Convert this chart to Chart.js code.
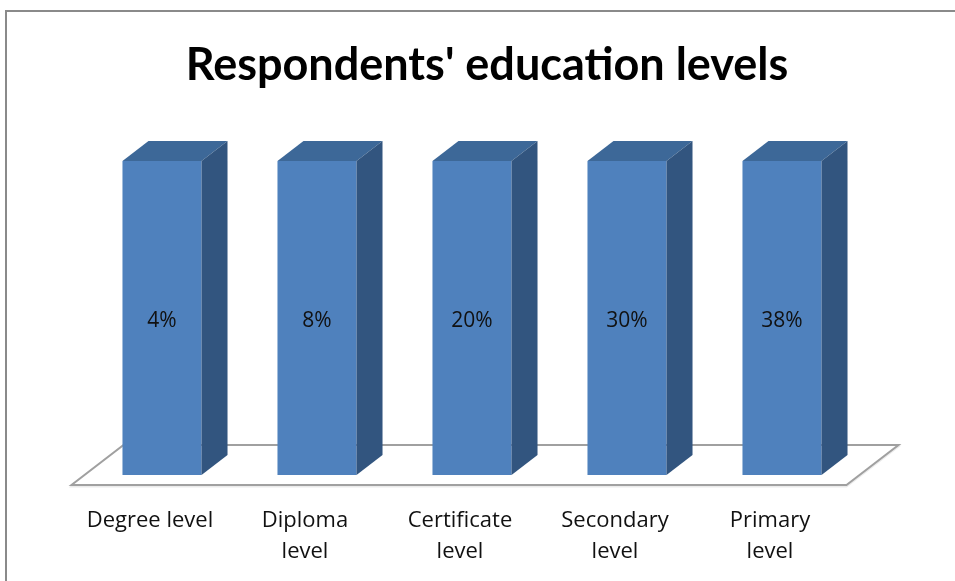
<!DOCTYPE html>
<html lang="en">
<head>
    <meta charset="UTF-8">
    <title>Respondents' education levels</title>
    <script src="https://cdn.jsdelivr.net/npm/chart.js"></script>
    <style>
        body {
            margin: 0;
            padding: 0;
            background-color: #ffffff;
        }

        #wrap {
            width: 955px;
            height: 581px;
        }
    </style>
</head>
<body>
    <div id="wrap">
        <canvas id="eduChart" width="955" height="581"></canvas>
    </div>

    <script>
        const chartTitle = "Respondents' education levels";
        // Education level categories (x-axis), label lines per category
        const levels = [
            ['Degree level'],
            ['Diploma', 'level'],
            ['Certificate', 'level'],
            ['Secondary', 'level'],
            ['Primary', 'level']
        ];
        // Share of respondents in each level (%)
        const shares = [4, 8, 20, 30, 38];

        // One series, 100% stacked: each column fills its own category total
        const stackTotals = shares.slice();
        const plotted = shares.map((v, i) => v / stackTotals[i] * 100);

        const FRONT = '#4F81BD';
        const TOP = '#3D6898';
        const SIDE = '#32557F';
        const TITLE_FONT = 'Lato, "Open Sans", sans-serif';
        const LABEL_FONT = '"Open Sans", Lato, sans-serif';

        // 3D depth: one unit of depth moves right 1.3px and up 1px
        const DEPTH = 20;
        const SLANT = 1.3;

        const box3d = {
            id: 'box3d',
            beforeDraw(chart) {
                const ctx = chart.ctx;
                ctx.save();
                // chart frame
                ctx.strokeStyle = '#8a8a8a';
                ctx.lineWidth = 2;
                ctx.beginPath();
                ctx.moveTo(6, chart.height);
                ctx.lineTo(6, 11);
                ctx.lineTo(chart.width, 11);
                ctx.stroke();

                // title, centred over the whole frame
                ctx.fillStyle = '#000000';
                ctx.font = 'bold 45px ' + TITLE_FONT;
                ctx.textAlign = 'center';
                ctx.textBaseline = 'alphabetic';
                ctx.fillText(chartTitle, 487, 80);
                ctx.restore();
            },
            beforeDatasetsDraw(chart) {
                // floor plane under the columns
                const ctx = chart.ctx;
                const x = chart.scales.x;
                const base = chart.scales.y.getPixelForValue(0);
                const front = 10, back = 30;
                const pts = [
                    [x.left - front * SLANT, base + front],
                    [x.right - front * SLANT, base + front],
                    [x.right + back * SLANT, base - back],
                    [x.left + back * SLANT, base - back]
                ];
                ctx.save();
                ctx.lineJoin = 'miter';
                ctx.beginPath();
                pts.forEach((p, i) => i ? ctx.lineTo(p[0], p[1] + 1.5) : ctx.moveTo(p[0], p[1] + 1.5));
                ctx.closePath();
                ctx.strokeStyle = 'rgba(0,0,0,0.08)';
                ctx.lineWidth = 2;
                ctx.stroke();
                ctx.beginPath();
                pts.forEach((p, i) => i ? ctx.lineTo(p[0], p[1]) : ctx.moveTo(p[0], p[1]));
                ctx.closePath();
                ctx.fillStyle = '#ffffff';
                ctx.fill();
                ctx.strokeStyle = '#a0a0a0';
                ctx.lineWidth = 2;
                ctx.stroke();
                ctx.restore();
            },
            afterDatasetsDraw(chart) {
                const ctx = chart.ctx;
                const meta = chart.getDatasetMeta(0);
                const dx = DEPTH * SLANT, dy = DEPTH;
                ctx.save();
                meta.data.forEach((bar, i) => {
                    const l = bar.x - bar.width / 2;
                    const r = bar.x + bar.width / 2;
                    const t = bar.y;
                    const b = bar.base;

                    // top face
                    ctx.beginPath();
                    ctx.moveTo(l, t);
                    ctx.lineTo(l + dx, t - dy);
                    ctx.lineTo(r + dx, t - dy);
                    ctx.lineTo(r, t);
                    ctx.closePath();
                    ctx.fillStyle = TOP;
                    ctx.fill();

                    // side face
                    ctx.beginPath();
                    ctx.moveTo(r, t);
                    ctx.lineTo(r + dx, t - dy);
                    ctx.lineTo(r + dx, b - dy);
                    ctx.lineTo(r, b);
                    ctx.closePath();
                    ctx.fillStyle = SIDE;
                    ctx.fill();

                    // value label in the middle of the front face
                    ctx.fillStyle = '#111111';
                    ctx.font = '21px ' + LABEL_FONT;
                    ctx.textAlign = 'center';
                    ctx.textBaseline = 'middle';
                    ctx.fillText(shares[i] + '%', bar.x, (t + b) / 2 + 3);
                });

                // category labels, centred on the floor's front edge
                const base = chart.scales.y.getPixelForValue(0);
                ctx.fillStyle = '#111111';
                ctx.font = '22px ' + LABEL_FONT;
                ctx.textAlign = 'center';
                ctx.textBaseline = 'middle';
                levels.forEach((lines, i) => {
                    const cx = chart.scales.x.getPixelForValue(i) - 12;
                    lines.forEach((txt, j) => {
                        ctx.fillText(txt, cx, base + 46 + j * 31);
                    });
                });
                ctx.restore();
            }
        };

        const ctx = document.getElementById('eduChart').getContext('2d');
        new Chart(ctx, {
            type: 'bar',
            data: {
                labels: levels,
                datasets: [{
                    data: plotted,
                    backgroundColor: FRONT,
                    borderWidth: 0,
                    barPercentage: 0.51,
                    categoryPercentage: 1.0
                }]
            },
            options: {
                responsive: false,
                animation: false,
                layout: {
                    padding: { left: 84.5, right: 95.5, top: 161, bottom: 106 }
                },
                plugins: {
                    legend: { display: false },
                    tooltip: { enabled: false },
                    title: { display: false }
                },
                scales: {
                    x: { display: false },
                    y: { display: false, min: 0, max: 100 }
                }
            },
            plugins: [box3d]
        });
    </script>
</body>
</html>
